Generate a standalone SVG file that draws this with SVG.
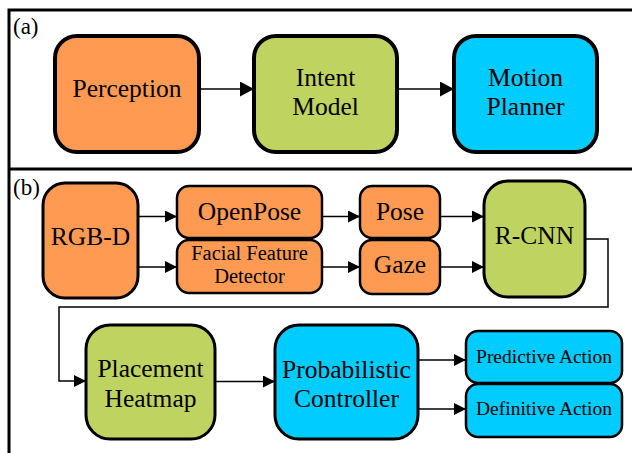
<svg xmlns="http://www.w3.org/2000/svg" width="632" height="453" viewBox="0 0 632 453">
<style>
text{font-family:'Liberation Serif','Times New Roman',serif;fill:#000}
.t{text-anchor:middle}
.big{font-size:25.5px}
.sm{font-size:20.5px}
.xs{font-size:19.5px}
.lab{font-size:23px}
.or{fill:#FF9A52}
.gr{fill:#BFD460}
.cy{fill:#00CCFF}
.ka{stroke:#000;stroke-width:4}
.kb{stroke:#000;stroke-width:3}
.kc{stroke:#000;stroke-width:2.5}
.c{fill:none;stroke:#000;stroke-width:1.5}
.frame{fill:none;stroke:#000;stroke-width:3}
</style>
<defs>
<marker id="ah" markerUnits="userSpaceOnUse" markerWidth="15" markerHeight="16" refX="14" refY="7.5" orient="auto">
<path d="M0,0 L14,7.5 L0,15 Z" fill="#000"/>
</marker>
<marker id="ab" markerUnits="userSpaceOnUse" markerWidth="13" markerHeight="13" refX="12" refY="6" orient="auto">
<path d="M0,0 L12,6 L0,12 Z" fill="#000"/>
</marker>
</defs>
<g id="frame">
<path class="frame" d="M632,10 H9 V453"/>
<path class="frame" d="M9,169 H632"/>
<text class="lab" x="13" y="34">(a)</text>
<text class="lab" x="13" y="195">(b)</text>
</g>
<g id="connectors">
<path class="c" d="M199,89 H254" marker-end="url(#ah)"/>
<path class="c" d="M397,89 H454" marker-end="url(#ah)"/>
<path class="c" d="M138,216.5 H177" marker-end="url(#ab)"/>
<path class="c" d="M138,267 H177" marker-end="url(#ab)"/>
<path class="c" d="M322,216.5 H360" marker-end="url(#ab)"/>
<path class="c" d="M322,267 H360" marker-end="url(#ab)"/>
<path class="c" d="M440,216.5 H484" marker-end="url(#ab)"/>
<path class="c" d="M440,267 H484" marker-end="url(#ab)"/>
<path class="c" d="M585,239 H608 V307 H59 V381 H86" marker-end="url(#ab)"/>
<path class="c" d="M215,381.5 H275" marker-end="url(#ab)"/>
<path class="c" d="M418,360 H466" marker-end="url(#ab)"/>
<path class="c" d="M418,409 H466" marker-end="url(#ab)"/>
</g>
<g id="perception">
<rect class="or ka" x="55" y="36" width="144" height="116" rx="22"/>
<text class="t big" x="127" y="97">Perception</text>
</g>
<g id="intent-model">
<rect class="gr ka" x="254" y="36" width="143" height="116" rx="22"/>
<text class="t big" x="325.5" y="86">Intent</text>
<text class="t big" x="325.5" y="115">Model</text>
</g>
<g id="motion-planner">
<rect class="cy ka" x="454" y="36" width="143" height="116" rx="22"/>
<text class="t big" x="525.5" y="86">Motion</text>
<text class="t big" x="525.5" y="115">Planner</text>
</g>
<g id="rgbd">
<rect class="or kb" x="43" y="183" width="95" height="115" rx="22"/>
<text class="t big" x="90.5" y="245">RGB-D</text>
</g>
<g id="openpose">
<rect class="or kc" x="177" y="186" width="145" height="52" rx="12"/>
<text class="t big" x="249.5" y="220">OpenPose</text>
</g>
<g id="facial">
<rect class="or kc" x="177" y="240" width="145" height="53" rx="12"/>
<text class="t sm" x="249.5" y="260">Facial Feature</text>
<text class="t sm" x="249.5" y="283">Detector</text>
</g>
<g id="pose">
<rect class="or kc" x="360" y="186" width="80" height="52" rx="12"/>
<text class="t big" x="400" y="220">Pose</text>
</g>
<g id="gaze">
<rect class="or kc" x="360" y="240" width="80" height="54" rx="12"/>
<text class="t big" x="400" y="273">Gaze</text>
</g>
<g id="rcnn">
<rect class="gr kb" x="484" y="181" width="101" height="116" rx="24"/>
<text class="t big" x="534.5" y="244">R-CNN</text>
</g>
<g id="placement-heatmap">
<rect class="gr kb" x="86" y="325" width="129" height="114" rx="24"/>
<text class="t big" x="150.5" y="377">Placement</text>
<text class="t big" x="150.5" y="407">Heatmap</text>
</g>
<g id="probabilistic-controller">
<rect class="cy kb" x="275" y="325" width="143" height="114" rx="24"/>
<text class="t big" x="346.5" y="378">Probabilistic</text>
<text class="t big" x="346.5" y="407">Controller</text>
</g>
<g id="predictive-action">
<rect class="cy kc" x="466" y="331" width="156" height="52" rx="12"/>
<text class="t xs" x="544" y="363">Predictive Action</text>
</g>
<g id="definitive-action">
<rect class="cy kc" x="466" y="384" width="156" height="53" rx="12"/>
<text class="t xs" x="544" y="415">Definitive Action</text>
</g>
</svg>
